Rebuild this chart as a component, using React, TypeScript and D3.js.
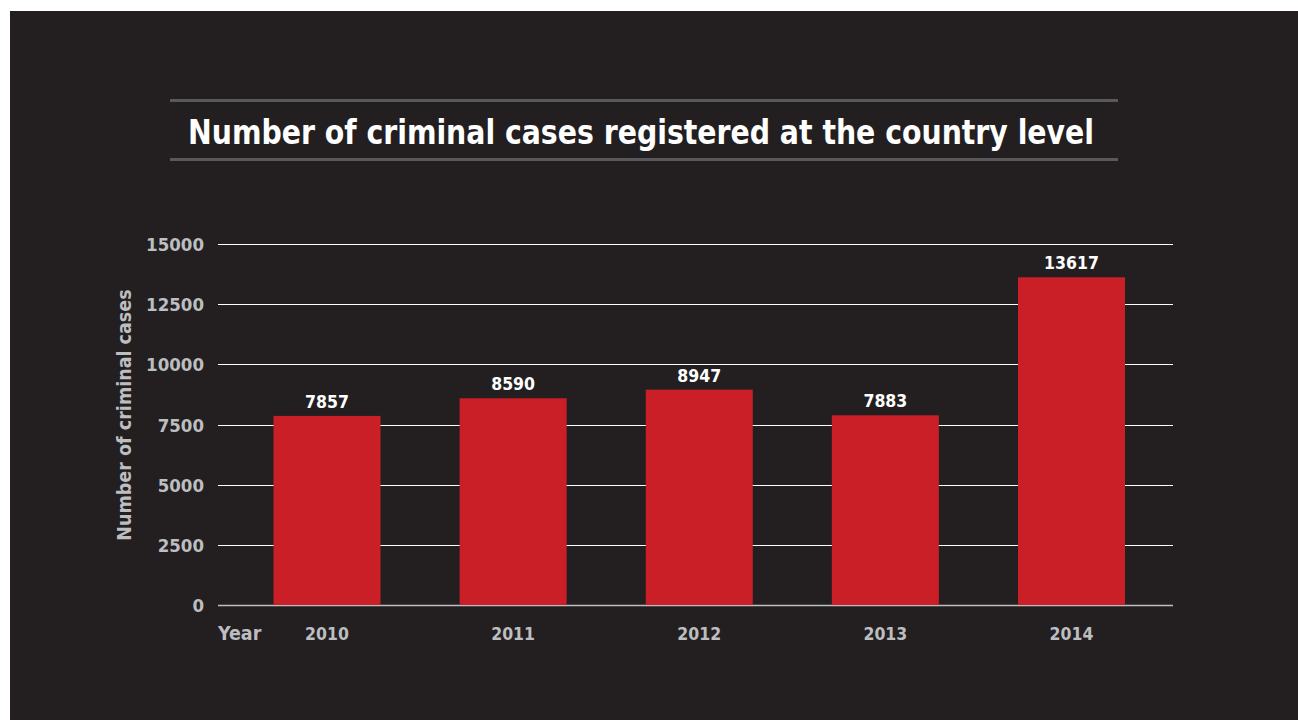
import React from "react";
import * as d3 from "d3";

const years = ["2010", "2011", "2012", "2013", "2014"];
const cases = [7857, 8590, 8947, 7883, 13617];
const yTicks = [0, 2500, 5000, 7500, 10000, 12500, 15000];
const titleText = "Number of criminal cases registered at the country level";
const yAxisTitle = "Number of criminal cases";
const xAxisTitle = "Year";

const FONT = "'DejaVu Sans Condensed', sans-serif";

export default function App() {
  const W = 1298, H = 720;
  const x = d3.scalePoint<string>().domain(years).range([327, 1071.5]);
  const y = d3.scaleLinear().domain([0, 15000]).range([605, 244]);
  const barW = 107;
  const gray = "#bcbec0";
  return (
    <svg width={W} height={H} style={{ position: "absolute", left: 0, top: 0 }}>
      <rect x={10} y={11} width={W - 10} height={H - 11} fill="#231f20" />
      <line x1={170} x2={1118} y1={100.5} y2={100.5} stroke="#58595b" strokeWidth={3} />
      <line x1={170} x2={1118} y1={159.5} y2={159.5} stroke="#58595b" strokeWidth={3} />
      <text x={641} y={144} textAnchor="middle" fill="#fff" fontFamily={FONT} fontWeight="bold" fontSize={34}
        textLength={906} lengthAdjust="spacingAndGlyphs">
        {titleText}
      </text>
      {yTicks.map((t) => (
        <g key={t}>
          <line x1={218} x2={1173} y1={Math.round(y(t)) + 0.5} y2={Math.round(y(t)) + 0.5}
            stroke={t === 0 ? gray : "#ffffff"} strokeWidth={t === 0 ? 1.5 : 1} />
          <text x={204} y={y(t) + 7} textAnchor="end" fill={gray} fontFamily={FONT} fontWeight="bold" fontSize={18.5}>
            {t}
          </text>
        </g>
      ))}
      {years.map((yr, i) => (
        <g key={yr}>
          <rect x={x(yr)! - barW / 2} y={y(cases[i])} width={barW} height={y(0) - y(cases[i])} fill="#cb1f27" />
          <text x={x(yr)!} y={y(cases[i]) - 8} textAnchor="middle" fill="#fff" fontFamily={FONT} fontWeight="bold" fontSize={17.5}>
            {cases[i]}
          </text>
          <text x={x(yr)!} y={640} textAnchor="middle" fill={gray} fontFamily={FONT} fontWeight="bold" fontSize={17.5}>
            {yr}
          </text>
        </g>
      ))}
      <text x={218} y={640} textAnchor="start" fill={gray} fontFamily={FONT} fontWeight="bold" fontSize={19.5}>
        {xAxisTitle}
      </text>
      <text transform={`translate(131,415) rotate(-90)`} textAnchor="middle" fill={gray} fontFamily={FONT} fontWeight="bold" fontSize={19.5}>
        {yAxisTitle}
      </text>
    </svg>
  );
}
